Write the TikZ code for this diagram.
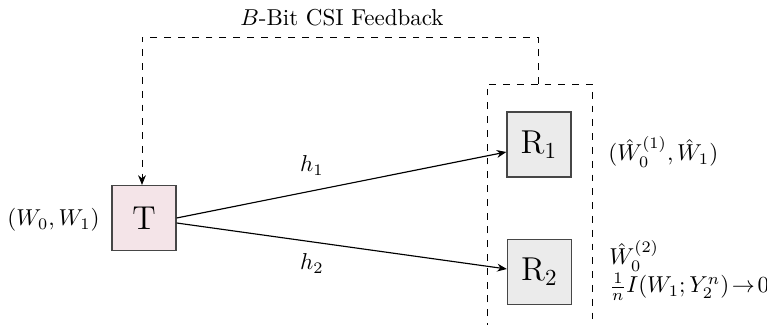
\documentclass[tikz,border=0pt]{standalone}
\usetikzlibrary{arrows.meta,calc}
\definecolor{tfill}{RGB}{244,228,232}
\definecolor{rfill}{RGB}{235,235,235}
\definecolor{bord}{RGB}{70,70,70}
\begin{document}
\begin{tikzpicture}[x=0.4348pt,y=-0.4348pt,
  blk/.style={draw=bord,line width=0.6pt,minimum width=27.8pt,minimum height=28.2pt,inner sep=0pt,font=\Large},
  lbl/.style={inner sep=0pt,anchor=base},
  dsh/.style={dashed,line width=0.4pt},
  arr/.style={-{Stealth[length=4.2pt,width=3.4pt]},line width=0.5pt}]
\useasboundingbox (0,0) rectangle (767,325);
\node[blk,fill=tfill] (T) at (144,218) {T};
\node[blk,fill=rfill] (R1) at (539,144.5) {R$_1$};
\node[blk,fill=rfill] (R2) at (539.5,272) {R$_2$};
% dashed receiver enclosure
\coordinate (dtl) at (487,84);
\coordinate (dtr) at (592,84);
\coordinate (dbl) at (487,330);
\coordinate (dbr) at (592,330);
\draw[dsh] (dbl) -- (dtl) -- (dtr) -- (dbr);
% feedback
\coordinate (fbs) at (538,84);
\coordinate (fb1) at (538,37);
\coordinate (fb2) at (142,37);
\draw[dsh,arr,line width=0.4pt] (fbs) -- (fb1) -- (fb2) -- (fb2 |- T.north);
\node[lbl] (fbl) at (342,26) {$B$-Bit CSI Feedback};
% links
\draw[arr] ($(T.east)+(0,0)$) -- ($(R1.west)+(0,7.5)$);
\draw[arr] ($(T.east)+(0,5)$) -- ($(R2.west)+(0,-3)$);
\node[lbl] (h1) at (312,172) {$h_1$};
\node[lbl] (h2) at (312,270) {$h_2$};
% labels
\node[inner sep=0pt,anchor=east] (src) at (100,220) {$(W_0,W_1)$};
\node[inner sep=0pt,anchor=west] (d1) at (608,152) {$(\hat{W}_0^{(1)},\hat{W}_1)$};
\node[inner sep=0pt,anchor=west] (d2a) at (609,256) {$\hat{W}_0^{(2)}$};
\node[inner sep=0pt,anchor=west] (d2b) at (609,287) {$\frac{1}{n}I(W_1;Y_2^n)\!\rightarrow\!0$};
\end{tikzpicture}
\end{document}
